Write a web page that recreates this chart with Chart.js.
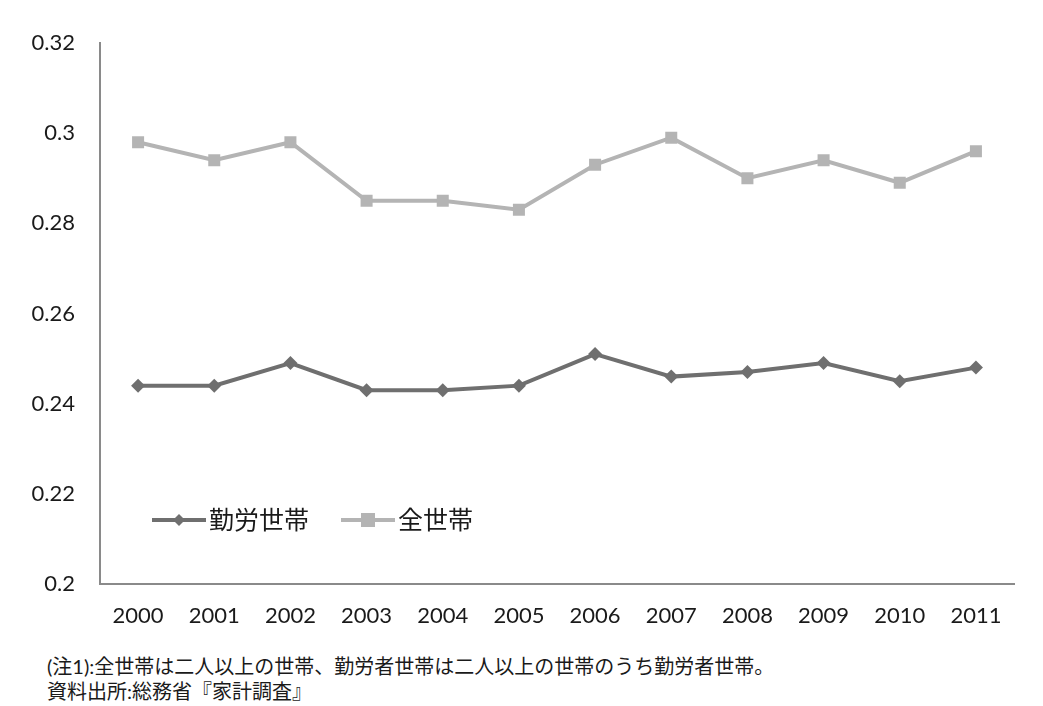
<!DOCTYPE html>
<html>
<head>
<meta charset="utf-8">
<script src="https://cdn.jsdelivr.net/npm/chart.js@4.4.0/dist/chart.umd.min.js"></script>
<style>
  body { margin: 0; background: #fff; }
  #wrap { position: relative; width: 1043px; height: 650px; }
  .note { position: absolute; left: 47px; font-family: Lato, "Noto Sans CJK JP", sans-serif; font-size: 20px; line-height: 24px; color: #1a1a1a; }
</style>
</head>
<body>
<div id="wrap"><canvas id="giniChart" width="1043" height="650"></canvas></div>
<div class="note" style="top:654px;">(注1):全世帯は二人以上の世帯、勤労者世帯は二人以上の世帯のうち勤労者世帯。</div>
<div class="note" style="top:679px;">資料出所:総務省『家計調査』</div>
<script>
// data
const years = ['2000','2001','2002','2003','2004','2005','2006','2007','2008','2009','2010','2011'];
const workerHouseholds = [0.244, 0.244, 0.249, 0.243, 0.243, 0.244, 0.251, 0.246, 0.247, 0.249, 0.245, 0.248];
const allHouseholds = [0.298, 0.294, 0.298, 0.285, 0.285, 0.283, 0.293, 0.299, 0.290, 0.294, 0.289, 0.296];
const yTicks = [0.2, 0.22, 0.24, 0.26, 0.28, 0.3, 0.32];

const fontFamily = 'Lato, "Noto Sans CJK JP", sans-serif';

// legend drawn inside the plot, lower left
const inPlotLegend = {
    id: 'inPlotLegend',
    afterDatasetsDraw(chart) {
        const ctx = chart.ctx;
        const y = 520;
        let x = 152;
        ctx.save();
        chart.data.datasets.forEach((ds) => {
            ctx.strokeStyle = ds.borderColor;
            ctx.lineWidth = 4;
            ctx.beginPath();
            ctx.moveTo(x, y);
            ctx.lineTo(x + 54, y);
            ctx.stroke();
            ctx.fillStyle = ds.borderColor;
            const mx = x + 27;
            ctx.beginPath();
            if (ds.pointStyle === 'rectRot') {
                ctx.moveTo(mx, y - 6); ctx.lineTo(mx + 6, y); ctx.lineTo(mx, y + 6); ctx.lineTo(mx - 6, y);
            } else {
                ctx.rect(mx - 7, y - 7, 14, 14);
            }
            ctx.fill();
            ctx.fillStyle = '#1a1a1a';
            ctx.font = '25px ' + fontFamily;
            ctx.textBaseline = 'middle';
            ctx.fillText(ds.label, x + 57, y + 1);
            x += 57 + ctx.measureText(ds.label).width + 32;
        });
        ctx.restore();
    }
};

new Chart(document.getElementById('giniChart'), {
    type: 'line',
    data: {
        labels: years,
        datasets: [
            {
                label: '勤労世帯',
                data: workerHouseholds,
                borderColor: '#6f6f6f',
                backgroundColor: '#6f6f6f',
                borderWidth: 4,
                pointStyle: 'rectRot',
                pointRadius: 7,
                pointBorderWidth: 0,
                tension: 0
            },
            {
                label: '全世帯',
                data: allHouseholds,
                borderColor: '#b4b4b4',
                backgroundColor: '#b4b4b4',
                borderWidth: 4,
                pointStyle: 'rect',
                pointRadius: 8.5,
                pointBorderWidth: 0,
                tension: 0
            }
        ]
    },
    options: {
        responsive: false,
        animation: false,
        layout: { padding: { top: 43, right: 29, bottom: 0, left: 0 } },
        scales: {
            x: {
                offset: true,
                grid: { display: false, drawTicks: false },
                border: { color: '#8a8a8a', width: 2 },
                ticks: { color: '#1a1a1a', font: { family: fontFamily, size: 22 }, padding: 19, autoSkip: false, maxRotation: 0 },
                afterFit(scale) { scale.height = 66; }
            },
            y: {
                min: 0.2,
                max: 0.32,
                afterBuildTicks(scale) { scale.ticks = yTicks.map(v => ({ value: v })); },
                grid: { display: false, drawTicks: false },
                border: { color: '#8a8a8a', width: 2 },
                ticks: {
                    color: '#1a1a1a',
                    padding: 25,
                    font: { family: fontFamily, size: 22 },
                    callback: (v) => String(Math.round(v * 100) / 100)
                },
                afterFit(scale) { scale.width = 100; }
            }
        },
        plugins: {
            legend: { display: false },
            tooltip: { enabled: false }
        }
    },
    plugins: [inPlotLegend]
});
</script>
</body>
</html>
